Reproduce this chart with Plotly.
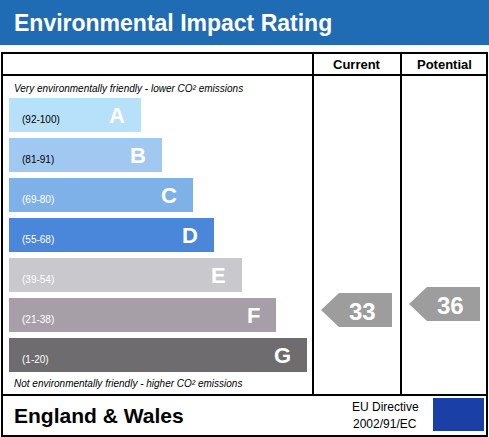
import plotly.graph_objects as go
import math

bands = ["A", "B", "C", "D", "E", "F", "G"]
ranges = ["(92-100)", "(81-91)", "(69-80)", "(55-68)", "(39-54)", "(21-38)", "(1-20)"]
bar_ends = [141, 162, 193, 214, 242, 276, 307]
colors = ["#b7e0fa", "#a0c8f0", "#7fb1e9", "#4a87da", "#c9c9cd", "#a79fa7", "#6f6c70"]
current_value = 33
potential_value = 36

fig = go.Figure()
row_y = [115 + 40 * i for i in range(7)]
fig.add_trace(go.Bar(y=row_y, x=[e - 9 for e in bar_ends], base=9, orientation="h",
                     width=34, marker=dict(color=colors, line=dict(width=0)),
                     hoverinfo="skip", showlegend=False))
for i, b in enumerate(bands):
    fig.add_annotation(x=20, y=row_y[i] + 4, text=ranges[i], showarrow=False, xanchor="left",
                       font=dict(size=10, color="black" if i < 2 else "white", family="Arial"))
    fig.add_annotation(x=bar_ends[i] - 14, y=row_y[i], text="<b>%s</b>" % b, showarrow=False,
                       xanchor="right", font=dict(size=22, color="white", family="Arial"))

shapes = []
shapes.append(dict(type="rect", x0=0, x1=489, y0=0, y1=45, fillcolor="#1f6cb4", line_width=0, layer="below"))
lw = dict(color="black", width=2)
shapes.append(dict(type="rect", x0=2, x1=487, y0=53, y1=395, line=lw))
shapes.append(dict(type="line", x0=2, x1=487, y0=75, y1=75, line=lw))
shapes.append(dict(type="line", x0=313, x1=313, y0=53, y1=395, line=lw))
shapes.append(dict(type="line", x0=401, x1=401, y0=53, y1=395, line=lw))
shapes.append(dict(type="rect", x0=2, x1=487, y0=395, y1=436, line=lw))
shapes.append(dict(type="rect", x0=433, x1=484, y0=398, y1=431, fillcolor="#1a3fa6", line_width=0))

def arrow(x0, x1, yc, val):
    h = 17
    path = f"M {x0},{yc} L {x0+18},{yc-h} L {x1},{yc-h} L {x1},{yc+h} L {x0+18},{yc+h} Z"
    shapes.append(dict(type="path", path=path, fillcolor="#9d9d9d", line_width=0))
    fig.add_annotation(x=(x0 + x1) / 2 + 6, y=yc + 1, text="<b>%d</b>" % val, showarrow=False,
                       font=dict(size=24, color="white", family="Arial"))

arrow(321, 392, 310, current_value)
arrow(409, 480, 304, potential_value)
fig.update_layout(shapes=shapes)

stars_x = [458.5 + 11 * math.cos(2 * math.pi * k / 12) for k in range(12)]
stars_y = [414.5 + 11 * math.sin(2 * math.pi * k / 12) for k in range(12)]
fig.add_trace(go.Scatter(x=stars_x, y=stars_y, mode="markers",
                         marker=dict(symbol="star", size=4, color="#ffdd00"),
                         hoverinfo="skip", showlegend=False))

def txt(x, y, t, size, anchor="left", color="black", italic=False, bold=False):
    if bold: t = "<b>%s</b>" % t
    if italic: t = "<i>%s</i>" % t
    fig.add_annotation(x=x, y=y, text=t, showarrow=False, xanchor=anchor,
                       font=dict(size=size, color=color, family="Arial"))

txt(12, 23, "Environmental Impact Rating", 23, color="white", bold=True)
txt(357, 64, "Current", 13, anchor="center", bold=True)
txt(444, 64, "Potential", 13, anchor="center", bold=True)
txt(12, 88, "Very environmentally friendly - lower CO² emissions", 10, italic=True)
txt(12, 383, "Not environmentally friendly - higher CO² emissions", 10, italic=True)
txt(12, 415, "England & Wales", 21, bold=True)
txt(385, 407, "EU Directive", 12, anchor="center")
txt(385, 424, "2002/91/EC", 12, anchor="center")

fig.update_xaxes(range=[0, 489], visible=False, fixedrange=True)
fig.update_yaxes(range=[437, 0], visible=False, fixedrange=True)
fig.update_layout(width=489, height=437, margin=dict(l=0, r=0, t=0, b=0),
                  plot_bgcolor="white", paper_bgcolor="white", bargap=0)
fig.write_html("out.html", config={"displayModeBar": False},
               post_script="document.body.style.margin='0';document.body.style.overflow='hidden';")
